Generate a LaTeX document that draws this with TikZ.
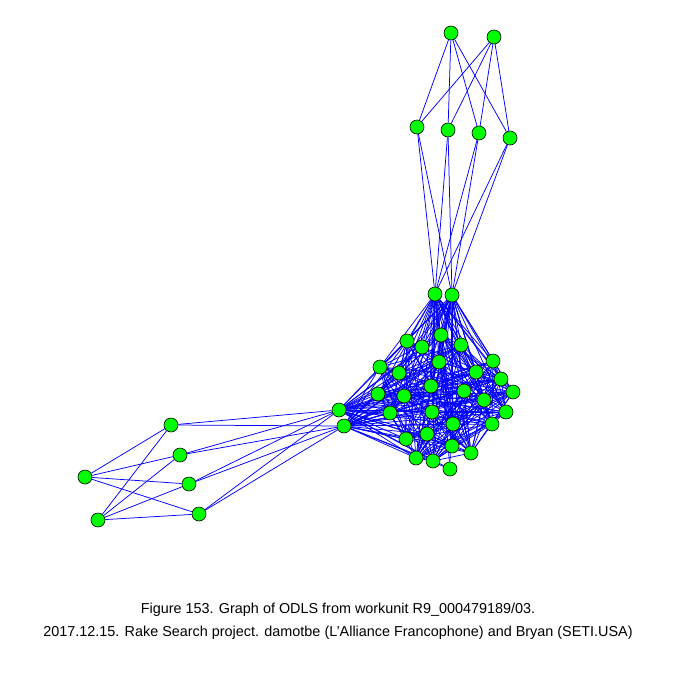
\documentclass[tikz,border=0pt]{standalone}
\usepackage{fontspec}
\setmainfont{Liberation Sans}
\pgfdeclarelayer{background}
\pgfsetlayers{background,main}
\begin{document}
\begin{tikzpicture}[x=1pt,y=-1pt,
  vtx/.style={circle,draw=black,line width=0.6pt,fill={rgb,255:red,0;green,255;blue,0},minimum size=14pt,inner sep=0pt},
  edge/.style={draw={rgb,255:red,0;green,0;blue,255},line width=0.75pt}]
\useasboundingbox (0,0) rectangle (675,675);
% nodes
\foreach \n/\x/\y in {T1/451/33,T2/494/37,S1/417/127,S2/448/130,S3/479/133,S4/510/138,
  M1/435/294,M2/452/295,L1/339/410,L2/344/426,
  A/171/425,B/180/455,C/189/484,D/199/514,E/85/477,F/98/520,
  c1/407/341,c2/422/347,c3/441/335,c4/461/345,c5/439/362,c6/380/367,c7/399/373,
  c8/493/361,c9/476/372,c10/501/379,c11/513/392,c12/431/386,c13/464/391,c14/378/394,
  c15/404/396,c16/484/400,c17/390/413,c18/432/412,c19/506/412,c20/453/424,c21/492/424,
  c22/406/439,c23/427/434,c24/452/446,c25/471/453,c26/416/458,c27/433/461,c28/450/469}
  \node[vtx] (\n) at (\x,\y) {};
\begin{pgfonlayer}{background}
% tails
\foreach \a in {T1,T2} \foreach \b in {S1,S2,S3,S4} \draw[edge] (\a) -- (\b);
\foreach \a in {S1,S2,S3,S4} \foreach \b in {M1,M2} \draw[edge] (\a) -- (\b);
\foreach \a in {E,F} \foreach \b in {A,B,C,D} \draw[edge] (\a) -- (\b);
\foreach \a in {A,B,C,D} \foreach \b in {L1,L2} \draw[edge] (\a) -- (\b);
% hubs to cluster
\foreach \a in {M1,M2,L1,L2} \foreach \k in {1,...,28} \draw[edge] (\a) -- (c\k);
% cluster
\foreach \i in {1,...,27}{
  \pgfmathtruncatemacro\ip{\i+1}
  \foreach \j in {\ip,...,28}{
    \pgfmathtruncatemacro\r{mod(\i*7+\j*13+\i*\j,5)}
    \ifnum\r<3 \draw[edge] (c\i) -- (c\j);\fi
  }
}
\end{pgfonlayer}
% caption
\node[font=\fontsize{14.4}{23}\selectfont,align=center] (cap) at (338,621)
  {Figure 153. Graph of ODLS from workunit R9\_000479189/03.\\
   2017.12.15. Rake Search project. damotbe (L'Alliance Francophone) and Bryan (SETI.USA)};
\end{tikzpicture}
\end{document}
